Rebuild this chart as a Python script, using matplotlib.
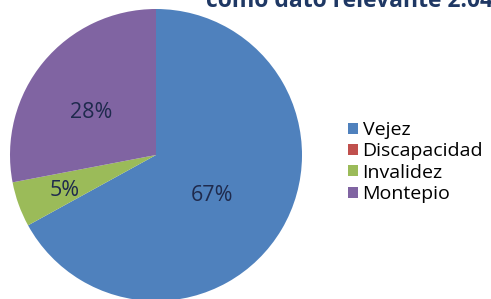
import numpy as np
import matplotlib.pyplot as plt
from matplotlib.patches import Patch

# datos
categorias = ['Vejez', 'Discapacidad', 'Invalidez', 'Montepio']
porcentajes = [67, 0, 5, 28]
colores = ['#4f81bd', '#c0504d', '#9bbb59', '#8064a2']
# posicion de las etiquetas (distancia, angulo) como en el original
etiqueta_dist = [0.47, 0, 0.67, 0.53]
etiqueta_ang = [-36.0, 0, 201.0, 147.0]

plt.rcParams['font.family'] = ['Open Sans', 'DejaVu Sans']

fig = plt.figure(figsize=(4.91, 2.99), dpi=100)
fig.patch.set_facecolor('white')
ax = fig.add_axes([10/491, -2/299, 292/491, 292/299])

wedges, _ = ax.pie(porcentajes, colors=colores, startangle=90, counterclock=False,
                   radius=1, wedgeprops=dict(linewidth=0))
for p, d, a in zip(porcentajes, etiqueta_dist, etiqueta_ang):
    if p == 0:
        continue
    ax.text(d*np.cos(np.radians(a)), d*np.sin(np.radians(a)), '%d%%' % p,
            ha='center', va='center', fontsize=15.5, color='#1f2a4d')
ax.set_xlim(-1, 1)
ax.set_ylim(-1, 1)
ax.set_aspect('equal')
ax.axis('off')

handles = [Patch(facecolor=c, edgecolor='none') for c in colores]
fig.legend(handles, categorias, loc='center left', bbox_to_anchor=(348/491, 1 - 162/299),
           frameon=False, fontsize=14, handlelength=0.5, handleheight=0.5,
           handletextpad=0.25, labelspacing=0.17, borderpad=0, borderaxespad=0)

fig.text(1.005, 1 - 7/299, 'como dato relevante 2.04', ha='right', va='baseline',
         fontsize=16.5, fontweight='bold', color='#1f3864')

fig.savefig('out.png', dpi=100)
